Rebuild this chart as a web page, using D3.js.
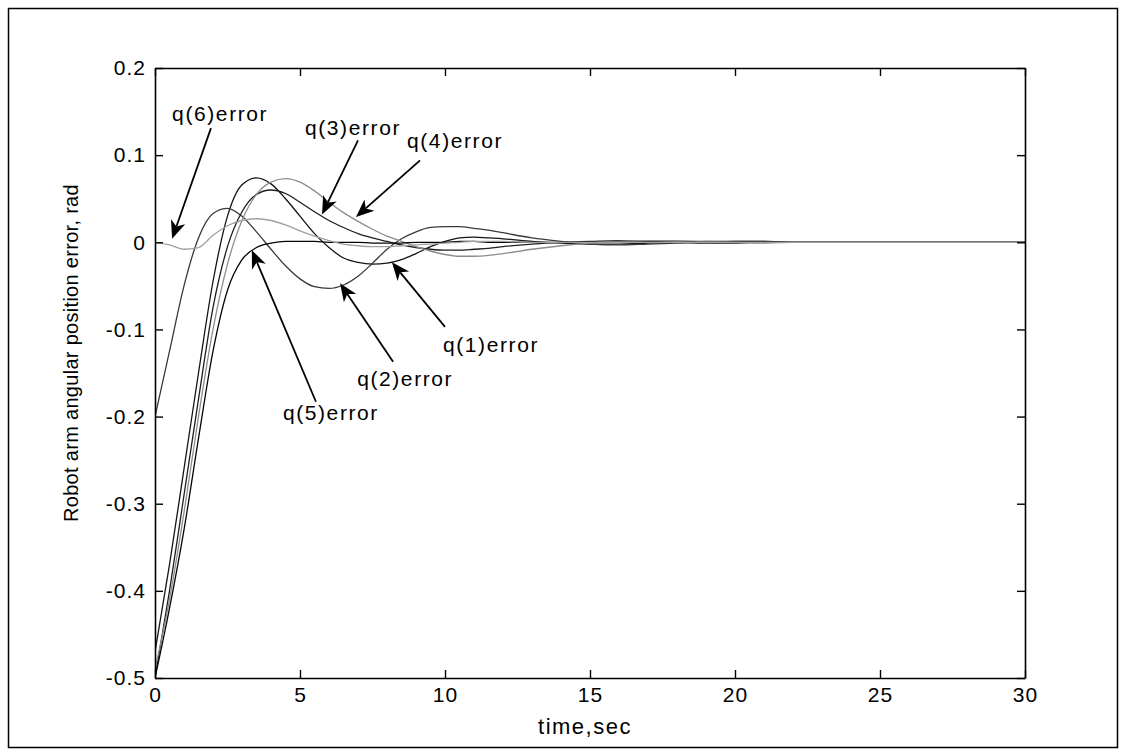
<!DOCTYPE html>
<html>
<head>
<meta charset="utf-8">
<script src="https://cdn.jsdelivr.net/npm/d3@7"></script>
<style>
  html, body { margin: 0; padding: 0; background: #fff; }
  svg { display: block; }
  text { font-family: "Liberation Sans", Arial, Helvetica, sans-serif; fill: #000; }
</style>
</head>
<body>
<svg id="chart" width="1124" height="755"></svg>
<script>
// Sample times (s)
const time = [0,0.5,1,1.5,2,2.5,3,3.5,4,4.5,5,5.5,6,6.5,7,7.5,8,8.5,9,9.5,10,10.5,11,11.5,12,13,14,15,16,17,18,19,20,21,22,24,26,28,30];

// Joint angular position errors (rad)
const q1 = [-0.47,-0.37,-0.26,-0.15,-0.045,0.03,0.066,0.074,0.067,0.05,0.03,0.01,-0.006,-0.018,-0.023,-0.025,-0.024,-0.02,-0.013,-0.005,0.001,0.005,0.006,0.005,0.004,0.001,-0.001,-0.002,-0.002,-0.001,0,0.001,0.001,0.001,0,0,0,0,0];
const q2 = [-0.2,-0.125,-0.05,0.005,0.033,0.039,0.03,0.012,-0.008,-0.027,-0.042,-0.051,-0.053,-0.049,-0.039,-0.024,-0.008,0.004,0.012,0.017,0.018,0.018,0.016,0.014,0.011,0.005,0.001,-0.002,-0.003,-0.002,-0.001,0,0.001,0.001,0,0,0,0,0];
const q3 = [-0.5,-0.4,-0.29,-0.18,-0.075,-0.005,0.035,0.055,0.06,0.056,0.046,0.035,0.025,0.017,0.01,0.005,0.001,-0.003,-0.006,-0.008,-0.009,-0.009,-0.008,-0.007,-0.005,-0.002,0,0.001,0.002,0.001,0,-0.001,-0.001,0,0,0,0,0,0];
const q4 = [-0.49,-0.41,-0.31,-0.2,-0.1,-0.025,0.025,0.055,0.069,0.073,0.069,0.059,0.046,0.034,0.024,0.015,0.007,0.001,-0.005,-0.01,-0.014,-0.016,-0.016,-0.015,-0.013,-0.008,-0.004,-0.001,0.001,0.002,0.002,0.001,0,-0.001,0,0,0,0,0];
const q5 = [-0.5,-0.42,-0.33,-0.225,-0.125,-0.055,-0.02,-0.006,-0.001,0.001,0.001,0.001,0,0,0,-0.001,-0.001,-0.001,0,0,0,0.001,0.001,0,0,0,0,0,0,0,0,0,0,0,0,0,0,0,0];
const q6 = [0,-0.003,-0.008,-0.006,0.008,0.019,0.025,0.027,0.025,0.02,0.013,0.007,0.002,-0.002,-0.004,-0.005,-0.005,-0.004,-0.003,-0.002,-0.001,0,0.001,0.001,0.001,0,0,0,0,0,0,0,0,0,0,0,0,0,0];

const seriesNames = ["q(1)error","q(2)error","q(3)error","q(4)error","q(5)error","q(6)error"];
const seriesValues = [q1, q2, q3, q4, q5, q6];

// Axis ticks
const xTicks = [0,5,10,15,20,25,30];
const xTickLabels = ["0","5","10","15","20","25","30"];
const yTicks = [-0.5,-0.4,-0.3,-0.2,-0.1,0,0.1,0.2];
const yTickLabels = ["-0.5","-0.4","-0.3","-0.2","-0.1","0","0.1","0.2"];

// Annotation arrows, in data units: tip [time, value], tail [time, value], text anchor [time, value]
const annLabels = ["q(6)error","q(3)error","q(4)error","q(1)error","q(2)error","q(5)error"];
const annTip    = [[0.59,0.004],[5.76,0.032],[6.93,0.029],[8.17,-0.023],[6.38,-0.047],[3.34,-0.009]];
const annTail   = [[1.93,0.131],[7.0,0.117],[9.14,0.094],[10.0,-0.097],[8.21,-0.137],[5.55,-0.183]];
const annText   = [[0.59,0.148],[5.17,0.132],[8.69,0.117],[9.93,-0.118],[6.97,-0.156],[4.41,-0.196]];

const svg = d3.select("#chart");
const plot = { left: 155, right: 1025, top: 68, bottom: 678 };

const x = d3.scaleLinear().domain([0, 30]).range([plot.left, plot.right]);
const y = d3.scaleLinear().domain([-0.5, 0.2]).range([plot.bottom, plot.top]);

// outer figure frame
svg.append("rect")
  .attr("x", 8.5).attr("y", 8.5)
  .attr("width", 1109).attr("height", 739)
  .attr("fill", "none").attr("stroke", "#000").attr("stroke-width", 1.5);

// curves
const lineColors = ["#141414", "#3a3a3a", "#1e1e1e", "#8c8c8c", "#050505", "#a0a0a0"];
const line = d3.line()
  .x((d, i) => x(time[i]))
  .y(d => y(d))
  .curve(d3.curveMonotoneX);

svg.append("clipPath").attr("id", "plotclip")
  .append("rect")
  .attr("x", plot.left).attr("y", plot.top)
  .attr("width", plot.right - plot.left).attr("height", plot.bottom - plot.top);

svg.append("g").attr("clip-path", "url(#plotclip)")
  .selectAll("path")
  .data(seriesValues)
  .join("path")
  .attr("d", d => line(d))
  .attr("fill", "none")
  .attr("stroke", (d, i) => lineColors[i])
  .attr("stroke-width", 1.3);

// axes with inward ticks on all four sides
const tickLen = 8;
svg.append("g").attr("transform", `translate(0,${plot.bottom})`)
  .call(d3.axisBottom(x).tickValues(xTicks).tickFormat((d, i) => xTickLabels[i])
    .tickSize(-tickLen).tickSizeOuter(0).tickPadding(9));
svg.append("g").attr("transform", `translate(${plot.left},0)`)
  .call(d3.axisLeft(y).tickValues(yTicks).tickFormat((d, i) => yTickLabels[i])
    .tickSize(-tickLen).tickSizeOuter(0).tickPadding(9));
svg.append("g").attr("transform", `translate(0,${plot.top})`)
  .call(d3.axisTop(x).tickValues(xTicks).tickFormat("").tickSize(-tickLen).tickSizeOuter(0));
svg.append("g").attr("transform", `translate(${plot.right},0)`)
  .call(d3.axisRight(y).tickValues(yTicks).tickFormat("").tickSize(-tickLen).tickSizeOuter(0));

svg.selectAll(".domain").attr("stroke", "#000").attr("stroke-width", 1.6);
svg.selectAll(".tick line").attr("stroke", "#000").attr("stroke-width", 1.4);
svg.selectAll(".tick text")
  .style("font-family", "'Liberation Sans', Arial, sans-serif")
  .style("font-size", "21px")
  .style("letter-spacing", "1px")
  .attr("fill", "#000");

// axis titles
svg.append("text")
  .attr("x", 585).attr("y", 734)
  .attr("text-anchor", "middle")
  .style("font-size", "22px").style("letter-spacing", "1.5px")
  .text("time,sec");

svg.append("text")
  .attr("transform", `translate(78,${(plot.top + plot.bottom) / 2 - 20}) rotate(-90)`)
  .attr("text-anchor", "middle")
  .style("font-size", "20px").style("letter-spacing", "0.3px")
  .text("Robot arm angular position error, rad");

// annotation arrows
const ann = svg.append("g");
annLabels.forEach((label, i) => {
  const tip = [x(annTip[i][0]), y(annTip[i][1])];
  const tail = [x(annTail[i][0]), y(annTail[i][1])];
  const dx = tip[0] - tail[0], dy = tip[1] - tail[1];
  const len = Math.hypot(dx, dy);
  const ux = dx / len, uy = dy / len;
  const px = -uy, py = ux;
  const headLen = 18, headW = 7.5, notch = 5;
  const base = [tip[0] - ux * headLen, tip[1] - uy * headLen];
  const back = [tip[0] - ux * (headLen - notch), tip[1] - uy * (headLen - notch)];
  ann.append("line")
    .attr("x1", tail[0]).attr("y1", tail[1])
    .attr("x2", back[0]).attr("y2", back[1])
    .attr("stroke", "#000").attr("stroke-width", 1.8);
  ann.append("path")
    .attr("d", `M${tip[0]},${tip[1]} L${base[0] + px * headW},${base[1] + py * headW} L${back[0]},${back[1]} L${base[0] - px * headW},${base[1] - py * headW} Z`)
    .attr("fill", "#000");
  ann.append("text")
    .attr("x", x(annText[i][0])).attr("y", y(annText[i][1]))
    .attr("dy", "0.35em")
    .style("font-size", "21px").style("letter-spacing", "1.6px")
    .text(label);
});
</script>
</body>
</html>
